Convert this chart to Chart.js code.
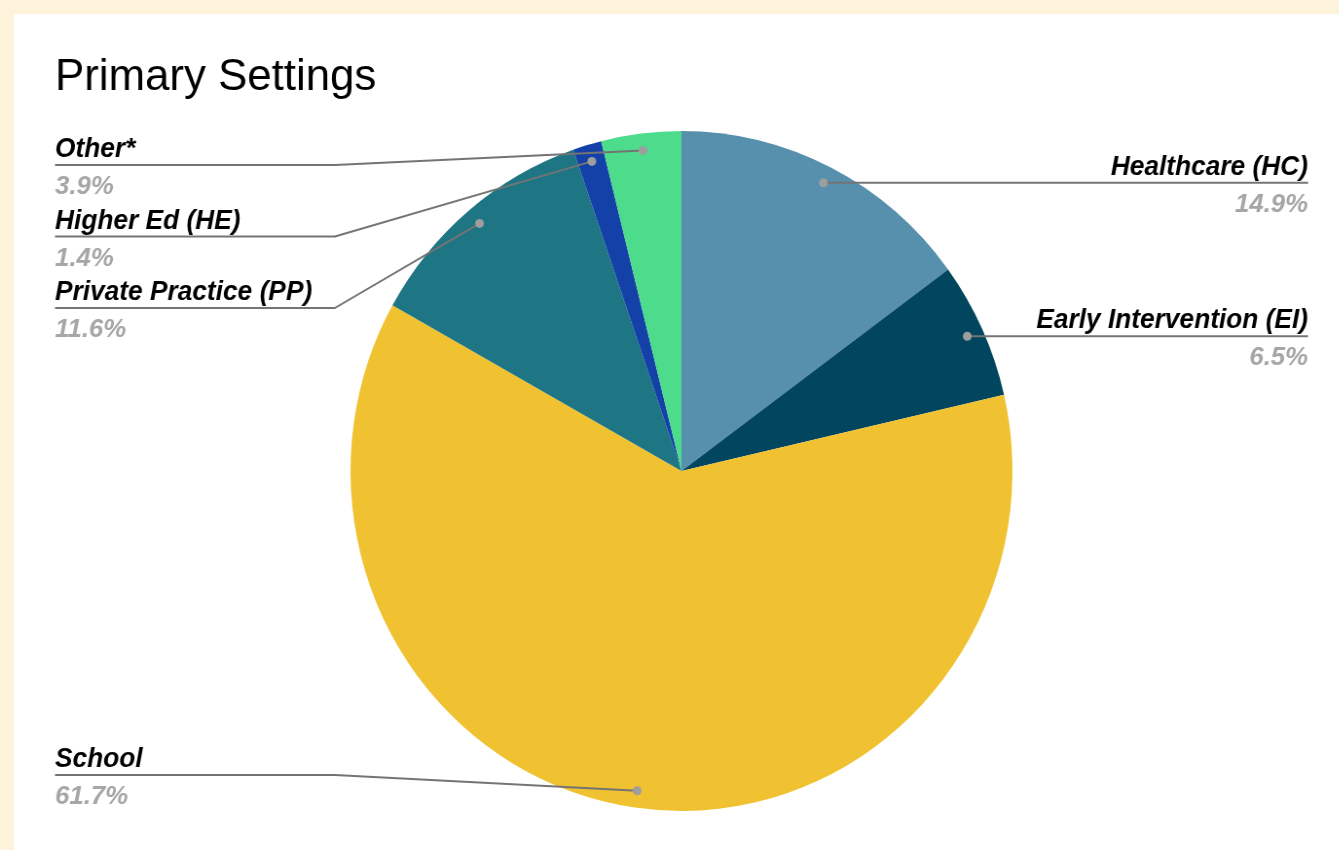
<!DOCTYPE html>
<html>
<head>
<meta charset="utf-8">
<script src="https://cdn.jsdelivr.net/npm/chart.js@4/dist/chart.umd.min.js"></script>
<style>
  html, body { margin: 0; padding: 0; width: 1339px; height: 850px; overflow: hidden; background: #FDF3DA; }
  #card { position: absolute; left: 14px; top: 14px; right: 0; bottom: 0; background: #ffffff; }
  #c { position: absolute; left: 0; top: 0; width: 1375px; height: 850px; transform: scaleX(0.97353); transform-origin: 0 0; }
</style>
</head>
<body>
<div id="card"></div>
<canvas id="c" width="1375" height="850"></canvas>
<script>
// Survey shares by primary work setting (percent)
const categories = ['Healthcare (HC)', 'Early Intervention (EI)', 'School', 'Private Practice (PP)', 'Higher Ed (HE)', 'Other*'];
const shares = [14.9, 6.5, 61.7, 11.6, 1.4, 3.9];
const sliceColors = ['#5690AD', '#02455F', '#F0C231', '#1E7584', '#1441A8', '#4DDC8B'];
const chartTitle = 'Primary Settings';

// Callout styling and column layout (canvas units, before the horizontal squeeze)
const callout = {
  leftX: 56.5,
  leftElbowX: 344,
  rightX: 1343.6,
  minLineY: 165,
  maxLineY: 775,
  gap: 71.5,
  dotRatio: 0.95,
  labelFont: 'italic bold 27px "Liberation Sans", Arial, sans-serif',
  valueFont: 'italic bold 26.5px "Liberation Sans", Arial, sans-serif',
  labelColor: '#000000',
  valueColor: '#A6A6A6',
  lineColor: '#747474',
  dotColor: '#9E9E9E'
};

function stackColumn(items) {
  items.sort((a, b) => a.py - b.py);
  let prev = -Infinity;
  items.forEach(it => {
    let y = Math.min(Math.max(it.py, callout.minLineY), callout.maxLineY);
    if (y < prev + callout.gap) y = prev + callout.gap;
    it.lineY = y;
    prev = y;
  });
  // pull back up anything pushed past the bottom limit
  for (let k = items.length - 1; k >= 0; k--) {
    const limit = k === items.length - 1 ? callout.maxLineY : items[k + 1].lineY - callout.gap;
    if (items[k].lineY > limit) items[k].lineY = limit;
  }
}

const calloutPlugin = {
  id: 'callouts',
  afterDatasetsDraw(chart) {
    const ctx = chart.ctx;
    const arcs = chart.getDatasetMeta(0).data;
    const items = arcs.map((arc, i) => {
      const p = arc.getProps(['x', 'y', 'startAngle', 'endAngle', 'outerRadius'], true);
      const mid = (p.startAngle + p.endAngle) / 2;
      const r = p.outerRadius * callout.dotRatio;
      return { i, px: p.x + Math.cos(mid) * r, py: p.y + Math.sin(mid) * r, left: Math.cos(mid) < 0 };
    });
    const leftItems = items.filter(it => it.left);
    const rightItems = items.filter(it => !it.left);
    stackColumn(leftItems);
    stackColumn(rightItems);

    ctx.save();
    // leader lines
    ctx.strokeStyle = callout.lineColor;
    ctx.lineWidth = 2;
    ctx.lineJoin = 'round';
    leftItems.forEach(it => {
      ctx.beginPath();
      ctx.moveTo(callout.leftX, it.lineY);
      ctx.lineTo(callout.leftElbowX, it.lineY);
      ctx.lineTo(it.px, it.py);
      ctx.stroke();
    });
    rightItems.forEach(it => {
      ctx.beginPath();
      ctx.moveTo(it.px, it.py);
      if (Math.abs(it.lineY - it.py) > 0.5) {
        const ex = chart.width - callout.leftElbowX;
        ctx.lineTo(ex, it.lineY);
      }
      ctx.lineTo(callout.rightX, it.lineY);
      ctx.stroke();
    });
    // anchor dots
    ctx.fillStyle = callout.dotColor;
    items.forEach(it => {
      ctx.beginPath();
      ctx.arc(it.px, it.py, 4.5, 0, Math.PI * 2);
      ctx.fill();
    });
    // texts
    ctx.textBaseline = 'alphabetic';
    const drawText = (it, x, align) => {
      ctx.textAlign = align;
      ctx.font = callout.labelFont;
      ctx.fillStyle = callout.labelColor;
      ctx.fillText(categories[it.i], x, it.lineY - 8);
      ctx.font = callout.valueFont;
      ctx.fillStyle = callout.valueColor;
      ctx.fillText(shares[it.i].toFixed(1) + '%', x, it.lineY + 29);
    };
    leftItems.forEach(it => drawText(it, callout.leftX, 'left'));
    rightItems.forEach(it => drawText(it, callout.rightX, 'right'));

    // chart title
    ctx.textAlign = 'left';
    ctx.font = '45px "Liberation Sans", Arial, sans-serif';
    ctx.fillStyle = '#000000';
    ctx.fillText(chartTitle, 56.5, 90);
    ctx.restore();
  }
};

new Chart(document.getElementById('c'), {
  type: 'pie',
  data: {
    labels: categories,
    datasets: [{
      data: shares,
      backgroundColor: sliceColors,
      borderWidth: 0
    }]
  },
  options: {
    responsive: false,
    animation: false,
    layout: { padding: { left: 360, right: 335, top: 131, bottom: 39 } },
    plugins: {
      legend: { display: false },
      tooltip: { enabled: false },
      title: { display: false }
    }
  },
  plugins: [calloutPlugin]
});
</script>
</body>
</html>
